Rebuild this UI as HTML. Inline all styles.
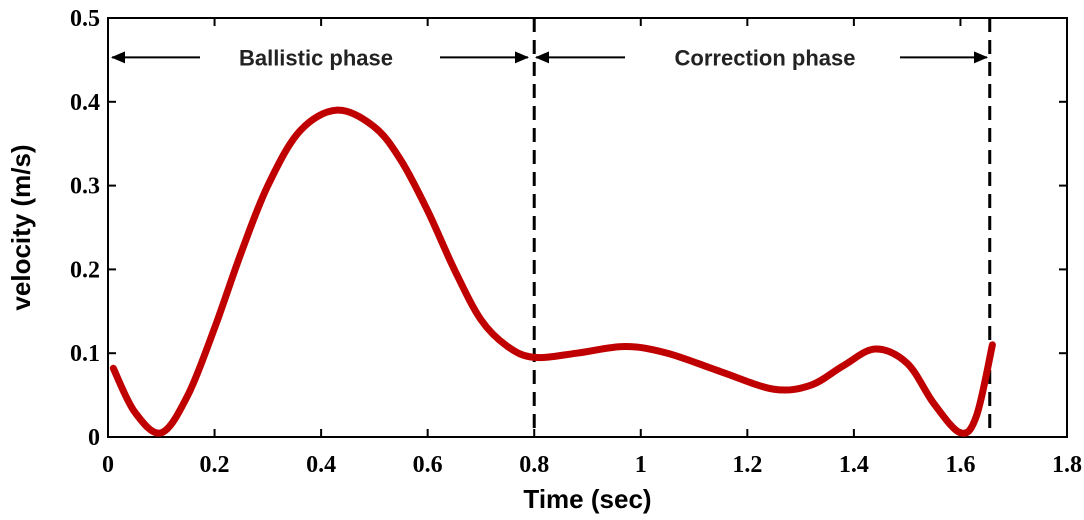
<!DOCTYPE html>
<html><head><meta charset="utf-8"><style>
body{margin:0;background:#fff;}
svg{display:block;font-family:"Liberation Serif",serif;}
</style></head><body>
<svg id="chart" width="1084" height="520">
<g id="axes"></g>
<g id="marks"></g>
</svg>
<script>
const times=[0.01,0.05,0.1,0.15,0.2,0.25,0.3,0.36,0.43,0.5,0.55,0.6,0.65,0.7,0.75,0.8,0.88,0.97,1.05,1.15,1.25,1.32,1.38,1.44,1.5,1.55,1.6,1.63,1.66];
const velocity=[0.082,0.03,0.005,0.05,0.13,0.22,0.30,0.365,0.39,0.37,0.33,0.27,0.2,0.14,0.108,0.095,0.1,0.108,0.1,0.078,0.057,0.062,0.085,0.105,0.088,0.04,0.005,0.025,0.11];
const xTicks=[0,0.2,0.4,0.6,0.8,1,1.2,1.4,1.6,1.8];
const xTickLabels=["0","0.2","0.4","0.6","0.8","1","1.2","1.4","1.6","1.8"];
const yTicks=[0,0.1,0.2,0.3,0.4,0.5];
const yTickLabels=["0","0.1","0.2","0.3","0.4","0.5"];
const phaseBounds=[0.8,1.655];
const NS="http://www.w3.org/2000/svg";
const X0=108,X1=1067,Y0=437,Y1=18;
const xs=t=>X0+(t-0)/(1.8)*(X1-X0);
const ys=v=>Y0-(v/0.5)*(Y0-Y1);
function mk(tag,attrs,parent,text){const e=document.createElementNS(NS,tag);for(const k in attrs)e.setAttribute(k,attrs[k]);if(text!==undefined)e.textContent=text;parent.appendChild(e);return e;}
const ax=document.getElementById('axes'),mg=document.getElementById('marks');
let r=mk('rect',{x:X0,y:Y1,width:X1-X0,height:Y0-Y1,fill:'none',stroke:'#000','stroke-width':2},ax);


xTicks.forEach((t,i)=>{
  let l=mk('line',{x1:xs(t),x2:xs(t),y1:Y0,y2:Y0-8,stroke:'#000','stroke-width':2},ax);
  
  
  let l2=mk('line',{x1:xs(t),x2:xs(t),y1:Y1,y2:Y1+8,stroke:'#000','stroke-width':2},ax);
  
  
  let tx=mk('text',{x:xs(t),y:472,'text-anchor':'middle','font-size':24,'font-weight':'bold'},ax,xTickLabels[i]);
  
  
});
yTicks.forEach((v,i)=>{
  let l=mk('line',{x1:X0,x2:X0+8,y1:ys(v),y2:ys(v),stroke:'#000','stroke-width':2},ax);
  
  
  let l2=mk('line',{x1:X1,x2:X1-8,y1:ys(v),y2:ys(v),stroke:'#000','stroke-width':2},ax);
  
  
  let tx=mk('text',{x:X0-8,y:ys(v)+8,'text-anchor':'end','font-size':24,'font-weight':'bold'},ax,yTickLabels[i]);
  
  
});
let xt=mk('text',{x:xs(0.9),y:508,'text-anchor':'middle','font-size':26,'font-weight':'bold','font-family':'Liberation Sans,sans-serif'},ax,'Time (sec)');


let yt=mk('text',{x:0,y:0,'text-anchor':'middle','font-size':26,'font-weight':'bold','font-family':'Liberation Sans,sans-serif',transform:`translate(30,${ys(0.25)}) rotate(-90)`},ax,'velocity (m/s)');


phaseBounds.forEach(b=>{
  let l=mk('line',{x1:xs(b),x2:xs(b),y1:Y1,y2:Y0,stroke:'#000','stroke-width':3,'stroke-dasharray':'14,8'},mg);
  
  
});
mk('defs',{},mg).innerHTML='<marker id="ah" markerWidth="14" markerHeight="12" refX="13" refY="6" orient="auto" markerUnits="userSpaceOnUse"><path d="M0,0 L14,6 L0,12 z" fill="#000"/></marker>';
const ay=ys(0.453);
function arrow(x1,x2,name){let l=mk('line',{x1:x1,x2:x2,y1:ay,y2:ay,stroke:'#000','stroke-width':2,'marker-end':'url(#ah)'},mg);}
arrow(200,112,'ballistic-arrow-left');arrow(440,528,'ballistic-arrow-right');
arrow(625,536,'correction-arrow-left');arrow(900,987,'correction-arrow-right');
let p1=mk('text',{x:316,y:ay+8,'text-anchor':'middle','font-size':22,'font-weight':'bold','fill':'#222','font-family':'Liberation Sans,sans-serif'},mg,'Ballistic phase');


let p2=mk('text',{x:765,y:ay+8,'text-anchor':'middle','font-size':22,'font-weight':'bold','fill':'#222','font-family':'Liberation Sans,sans-serif'},mg,'Correction phase');


const pts=times.map((t,i)=>[xs(t),ys(velocity[i])]);
let d=`M${pts[0][0]},${pts[0][1]}`;
for(let i=0;i<pts.length-1;i++){
  const p0=pts[Math.max(0,i-1)],p1=pts[i],p2=pts[i+1],p3=pts[Math.min(pts.length-1,i+2)];
  const c1=[p1[0]+(p2[0]-p0[0])/6,p1[1]+(p2[1]-p0[1])/6],c2=[p2[0]-(p3[0]-p1[0])/6,p2[1]-(p3[1]-p1[1])/6];
  d+=` C${c1[0]},${c1[1]} ${c2[0]},${c2[1]} ${p2[0]},${p2[1]}`;
}
let path=mk('path',{d:d,fill:'none',stroke:'#c00000','stroke-width':7,'stroke-linecap':'round','stroke-linejoin':'round'},mg);


</script>
</body></html>
